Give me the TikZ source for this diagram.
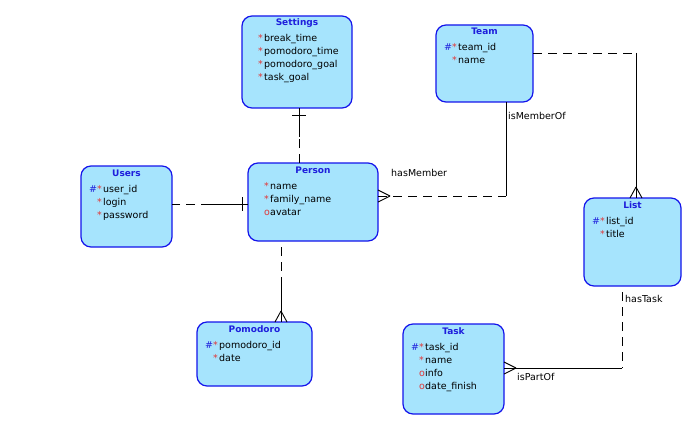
\documentclass[tikz,border=0pt]{standalone}
\usepackage{fontspec}
\setmainfont{DejaVu Sans}
\usetikzlibrary{calc}

\definecolor{entfill}{RGB}{166,228,253}
\definecolor{entline}{RGB}{20,20,235}
\definecolor{keyblue}{RGB}{30,30,220}
\definecolor{markred}{RGB}{225,55,55}

% attribute markers: primary key, none, mandatory, optional
\newcommand{\pkm}{\makebox[8pt][l]{\color{keyblue}\#}}
\newcommand{\nom}{\makebox[8pt][l]{}}
\newcommand{\mnd}{\makebox[6pt][l]{\color{markred}*}}
\newcommand{\opt}{\makebox[6pt][l]{\color{markred}o}}

\tikzset{
  entity/.style={draw=entline, fill=entfill, line width=1.2pt, rounded corners=10pt,
    anchor=north west, inner sep=0pt, outer sep=0pt},
  etitle/.style={anchor=base, inner sep=0pt, text=keyblue,
    font=\fontsize{9}{11}\selectfont\bfseries},
  attr/.style={anchor=base west, inner sep=0pt, font=\fontsize{9.5}{12}\selectfont},
  rel/.style={draw=black, line width=0.9pt},
  dashedrel/.style={dash pattern=on 9pt off 6pt},
  rlabel/.style={anchor=west, inner sep=0pt, font=\fontsize{9.5}{12}\selectfont},
}

% id, x, y, width, height, title, rows
\newcommand{\entity}[7]{%
  \node[entity, minimum width=#4pt, minimum height=#5pt] (#1) at (#2,#3) {};
  \node[etitle] (#1-title) at ($(#1.north)+(0,10)$) {#6};
  \foreach \rowtext [count=\i] in {#7}
    \node[attr] (#1-\i) at ($(#1.north west)+(8,13*\i+13)$) {\rowtext};
}

\begin{document}
\begin{tikzpicture}[x=1pt, y=-1pt]
  \fill[white] (0,0) rectangle (687,425);
  \useasboundingbox (0,0) rectangle (687,425);

  % entities
  \entity{settings}{242}{16}{110}{92}{Settings}%
    {{\nom\mnd break\_time},{\nom\mnd pomodoro\_time},{\nom\mnd pomodoro\_goal},{\nom\mnd task\_goal}}
  \entity{team}{436}{25}{97}{77}{Team}%
    {{\pkm\mnd team\_id},{\nom\mnd name}}
  \entity{users}{81}{166}{91}{81}{Users}%
    {{\pkm\mnd user\_id},{\nom\mnd login},{\nom\mnd password}}
  \entity{person}{248}{163}{130}{78}{Person}%
    {{\nom\mnd name},{\nom\mnd family\_name},{\nom\opt avatar}}
  \entity{list}{584}{198}{97}{88}{List}%
    {{\pkm\mnd list\_id},{\nom\mnd title}}
  \entity{pomodoro}{197}{322}{115}{64}{Pomodoro}%
    {{\pkm\mnd pomodoro\_id},{\nom\mnd date}}
  \entity{task}{403}{324}{101}{90}{Task}%
    {{\pkm\mnd task\_id},{\nom\mnd name},{\nom\opt info},{\nom\opt date\_finish}}

  % Settings -- Person (one to one)
  \coordinate (sp-mid) at (299,137);
  \draw[rel] (settings.south -| sp-mid) -- (sp-mid);
  \draw[rel, dashedrel] (person.north -| sp-mid) -- (sp-mid);
  \draw[rel] ($(settings.south -| sp-mid)+(-7,7)$) -- ++(14,0);

  % Users -- Person (one to one)
  \coordinate (up-mid) at (210,204);
  \draw[rel, dashedrel] (up-mid) -- (users.east |- up-mid);
  \draw[rel] (up-mid) -- (person.west |- up-mid);
  \draw[rel] ($(person.west |- up-mid)+(-6,-7)$) -- ++(0,14);

  % Person -- Team (hasMember / isMemberOf)
  \coordinate (pt-corner) at (506,196);
  \draw[rel, dashedrel] (person.east |- pt-corner) -- (pt-corner);
  \draw[rel] (pt-corner) -- (team.south -| pt-corner);
  \draw[rel] ($(person.east |- pt-corner)+(12,0)$) -- ($(person.east |- pt-corner)+(0,-6)$);
  \draw[rel] ($(person.east |- pt-corner)+(12,0)$) -- ($(person.east |- pt-corner)+(0,6)$);
  \node[rlabel] (l-hasmember) at (391,173) {hasMember};
  \node[rlabel] (l-ismemberof) at (508,116) {isMemberOf};

  % Team -- List
  \coordinate (tl-corner) at (636,53);
  \draw[rel, dashedrel] (team.east |- tl-corner) -- (tl-corner);
  \draw[rel] (tl-corner) -- (list.north -| tl-corner);
  \draw[rel] ($(list.north -| tl-corner)+(0,-11)$) -- ($(list.north -| tl-corner)+(-6,0)$);
  \draw[rel] ($(list.north -| tl-corner)+(0,-11)$) -- ($(list.north -| tl-corner)+(6,0)$);

  % List -- Task (hasTask / isPartOf)
  \coordinate (lt-corner) at (622,368);
  \draw[rel, dashedrel] ($(list.south -| lt-corner)+(0,6)$) -- (lt-corner);
  \draw[rel] (lt-corner) -- (task.east |- lt-corner);
  \draw[rel] ($(task.east |- lt-corner)+(12,0)$) -- ($(task.east |- lt-corner)+(0,-6)$);
  \draw[rel] ($(task.east |- lt-corner)+(12,0)$) -- ($(task.east |- lt-corner)+(0,6)$);
  \node[rlabel] (l-hastask) at (625,299) {hasTask};
  \node[rlabel] (l-ispartof) at (517,377) {isPartOf};

  % Person -- Pomodoro
  \coordinate (pp-mid) at (281,282);
  \draw[rel, dashedrel] ($(person.south -| pp-mid)+(0,6)$) -- (pp-mid);
  \draw[rel] (pp-mid) -- (pomodoro.north -| pp-mid);
  \draw[rel] ($(pomodoro.north -| pp-mid)+(0,-11)$) -- ($(pomodoro.north -| pp-mid)+(-6,0)$);
  \draw[rel] ($(pomodoro.north -| pp-mid)+(0,-11)$) -- ($(pomodoro.north -| pp-mid)+(6,0)$);
\end{tikzpicture}
\end{document}
